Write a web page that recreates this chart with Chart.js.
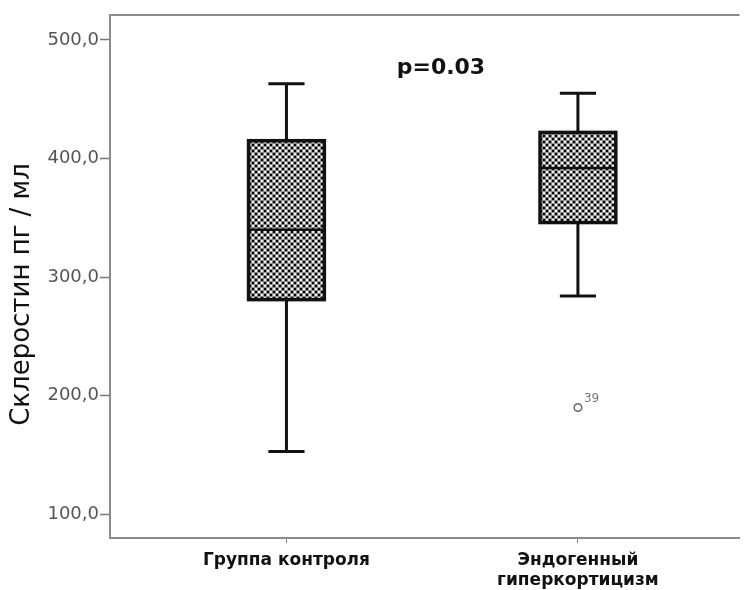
<!DOCTYPE html>
<html>
<head>
<meta charset="utf-8">
<script src="https://cdn.jsdelivr.net/npm/chart.js@4"></script>
<style>
html,body{margin:0;padding:0;background:#fff;}
#wrap{width:745px;height:590px;}
</style>
</head>
<body>
<div id="wrap"><canvas id="c" width="745" height="590"></canvas></div>
<script>
// ---- data ----
const categories = [['Группа контроля'], ['Эндогенный', 'гиперкортицизм']];
const categoryPositions = [1, 2];
const whiskerLow = [153, 284];
const q1 = [281, 346];
const median = [340, 392];
const q3 = [415, 422];
const whiskerHigh = [463, 455];
const outlierGroup = [2];
const outlierValue = [190];
const outlierLabel = ['39'];
const yTickValues = [100, 200, 300, 400, 500];
const yTickLabels = ['100,0', '200,0', '300,0', '400,0', '500,0'];
const yAxisTitle = 'Склеростин пг / мл';
const annotationText = 'p=0.03';

function makePattern(ctx) {
  const c = document.createElement('canvas');
  c.width = 6; c.height = 6;
  const g = c.getContext('2d');
  g.fillStyle = '#8e8e8e'; g.fillRect(0, 0, 6, 6);
  g.fillStyle = '#000';
  g.fillRect(0, 0, 2, 2); g.fillRect(3, 3, 2, 2);
  g.fillStyle = '#efefef';
  g.fillRect(3, 0, 2, 2); g.fillRect(0, 3, 2, 2);
  return ctx.createPattern(c, 'repeat');
}

const boxPlugin = {
  id: 'boxes',
  afterDatasetsDraw(chart) {
    const ctx = chart.ctx, xs = chart.scales.x, ys = chart.scales.y;
    const pat = makePattern(ctx);
    const boxHalf = 0.13, capHalf = 0.062;
    ctx.save();
    ctx.lineCap = 'butt';
    for (let i = 0; i < categoryPositions.length; i++) {
      const p = categoryPositions[i];
      const xc = xs.getPixelForValue(p);
      const xl = xs.getPixelForValue(p - boxHalf), xr = xs.getPixelForValue(p + boxHalf);
      const cl = xs.getPixelForValue(p - capHalf), cr = xs.getPixelForValue(p + capHalf);
      const yq1 = ys.getPixelForValue(q1[i]), yq3 = ys.getPixelForValue(q3[i]);
      const ymed = ys.getPixelForValue(median[i]);
      const ywl = ys.getPixelForValue(whiskerLow[i]), ywh = ys.getPixelForValue(whiskerHigh[i]);
      ctx.strokeStyle = '#111';
      ctx.lineWidth = 3;
      ctx.beginPath();
      ctx.moveTo(xc, ywh); ctx.lineTo(xc, yq3);
      ctx.moveTo(xc, yq1); ctx.lineTo(xc, ywl);
      ctx.moveTo(cl, ywh); ctx.lineTo(cr, ywh);
      ctx.moveTo(cl, ywl); ctx.lineTo(cr, ywl);
      ctx.stroke();
      ctx.fillStyle = pat;
      ctx.fillRect(xl, yq3, xr - xl, yq1 - yq3);
      ctx.lineWidth = 3.5;
      ctx.strokeRect(xl, yq3, xr - xl, yq1 - yq3);
      ctx.lineWidth = 2.5;
      ctx.beginPath();
      ctx.moveTo(xl, ymed); ctx.lineTo(xr, ymed);
      ctx.stroke();
    }
    ctx.fillStyle = '#777';
    ctx.font = '12px "DejaVu Sans", sans-serif';
    ctx.textAlign = 'left'; ctx.textBaseline = 'bottom';
    for (let j = 0; j < outlierValue.length; j++) {
      const x = xs.getPixelForValue(outlierGroup[j]);
      const y = ys.getPixelForValue(outlierValue[j]);
      ctx.fillText(outlierLabel[j], x + 6, y - 3);
    }
    ctx.fillStyle = '#111';
    ctx.font = 'bold 22px "DejaVu Sans", sans-serif';
    ctx.textAlign = 'center'; ctx.textBaseline = 'middle';
    ctx.fillText(annotationText, xs.getPixelForValue(1.53), ys.getPixelForValue(476));
    const a = chart.chartArea;
    ctx.strokeStyle = '#8c8c8c'; ctx.lineWidth = 2;
    ctx.beginPath(); ctx.moveTo(a.left, a.top); ctx.lineTo(a.right, a.top); ctx.stroke();
    ctx.save();
    ctx.translate(22, (a.top + a.bottom) / 2 + 18);
    ctx.rotate(-Math.PI / 2);
    ctx.fillStyle = '#111';
    ctx.font = '26px "DejaVu Sans", sans-serif';
    ctx.textAlign = 'center'; ctx.textBaseline = 'middle';
    ctx.fillText(yAxisTitle, 0, 0);
    ctx.restore();
    ctx.restore();
  }
};

new Chart(document.getElementById('c'), {
  type: 'scatter',
  data: {
    datasets: [{
      label: 'outliers',
      data: outlierValue.map((v, j) => ({ x: outlierGroup[j], y: v })),
      pointStyle: 'circle',
      pointRadius: 3.8,
      pointBorderWidth: 1.5,
      pointBackgroundColor: '#fff',
      pointBorderColor: '#666'
    }]
  },
  options: {
    responsive: false,
    animation: false,
    devicePixelRatio: 1,
    layout: { padding: { left: 0, top: 15, right: 0, bottom: 0 } },
    plugins: { legend: { display: false }, tooltip: { enabled: false } },
    scales: {
      x: {
        type: 'linear',
        min: 0.3946, max: 2.5544,
        afterBuildTicks: s => { s.ticks = categoryPositions.map(v => ({ value: v })); },
        afterFit: s => { s.height = 52; },
        ticks: {
          autoSkip: false, maxRotation: 0, padding: 8,
          color: '#111',
          font: { family: '"DejaVu Sans", sans-serif', size: 17, weight: 'bold', lineHeight: 1.15 },
          callback: (v) => { const i = categoryPositions.indexOf(v); return i >= 0 ? categories[i] : ''; }
        },
        grid: { drawOnChartArea: false, tickLength: 5, color: '#888', tickWidth: 1 },
        border: { color: '#8c8c8c', width: 2 }
      },
      y: {
        min: 80, max: 521,
        afterBuildTicks: s => { s.ticks = yTickValues.map(v => ({ value: v })); },
        afterFit: s => { s.width = 110; },
        ticks: {
          color: '#555', padding: 1,
          font: { family: '"DejaVu Sans", sans-serif', size: 18 },
          callback: (v) => { const i = yTickValues.indexOf(v); return i >= 0 ? yTickLabels[i] : ''; }
        },
        grid: { drawOnChartArea: false, tickLength: 10, color: '#777', tickWidth: 1.5 },
        border: { color: '#8c8c8c', width: 2 }
      }
    }
  },
  plugins: [boxPlugin]
});
</script>
</body>
</html>
